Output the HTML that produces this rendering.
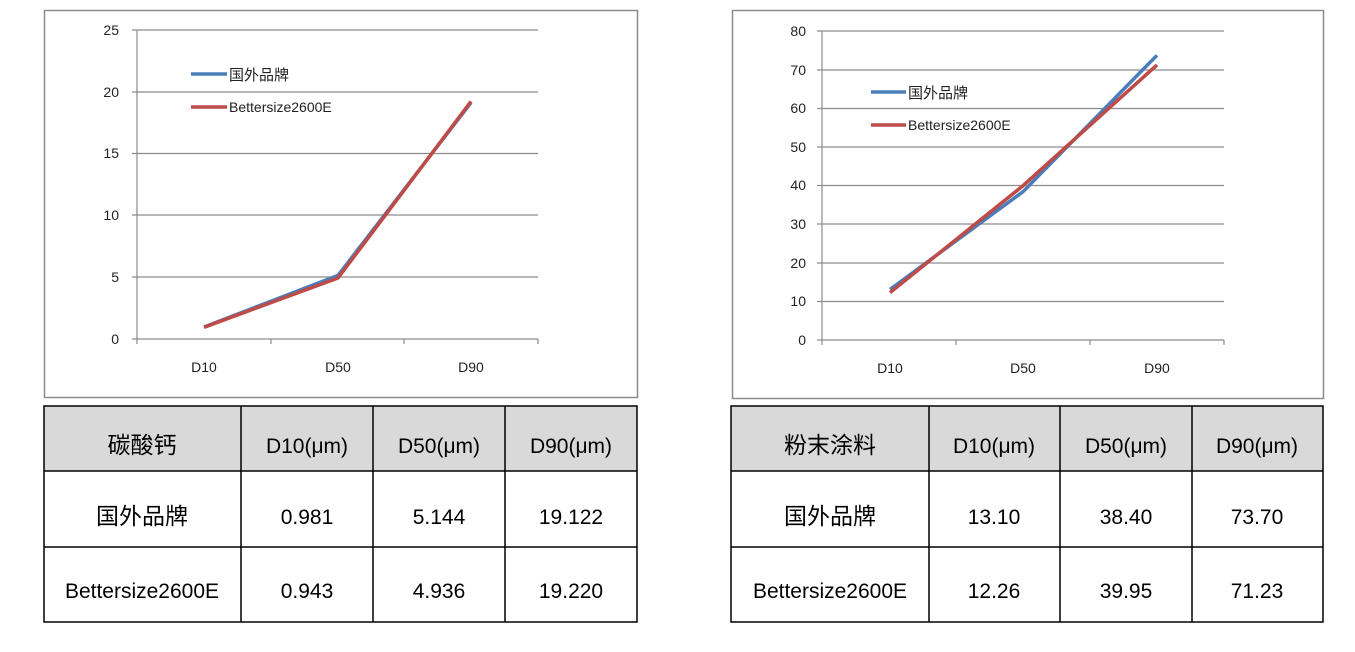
<!DOCTYPE html>
<html><head><meta charset="utf-8"><style>
html,body{margin:0;padding:0;background:#fff;width:1355px;height:652px;overflow:hidden}
svg{display:block}
</style></head><body>
<svg width="1355" height="652" viewBox="0 0 1355 652" xmlns="http://www.w3.org/2000/svg" font-family="'Liberation Sans','Noto Sans CJK SC',sans-serif">
<!-- Left chart -->
<rect x="44.5" y="10.5" width="593" height="387" fill="#fff" stroke="#8c8c8c" stroke-width="1.5"/>
<g stroke="#8c8c8c" stroke-width="1.2">
<line x1="132" y1="30" x2="538" y2="30"/><line x1="132" y1="92" x2="538" y2="92"/>
<line x1="132" y1="153.5" x2="538" y2="153.5"/><line x1="132" y1="215" x2="538" y2="215"/>
<line x1="132" y1="277" x2="538" y2="277"/><line x1="132" y1="339" x2="538" y2="339"/>
<line x1="137" y1="30" x2="137" y2="344"/>
<line x1="271" y1="339" x2="271" y2="344"/><line x1="404" y1="339" x2="404" y2="344"/><line x1="538" y1="339" x2="538" y2="344"/>
</g>
<g font-size="14" fill="#222" text-anchor="end">
<text x="119" y="35">25</text><text x="119" y="97">20</text><text x="119" y="158">15</text>
<text x="119" y="220">10</text><text x="119" y="282">5</text><text x="119" y="344">0</text>
</g>
<g font-size="14" fill="#222" text-anchor="middle">
<text x="204" y="372">D10</text><text x="338" y="372">D50</text><text x="471" y="372">D90</text>
</g>
<polyline points="204,327 338,275.4 471,102.7" fill="none" stroke="#4a7ebb" stroke-width="3.5" stroke-linejoin="round"/>
<polyline points="204,327.3 338,278 471,101.4" fill="none" stroke="#be4b48" stroke-width="3.5" stroke-linejoin="round"/>
<line x1="191" y1="74" x2="227" y2="74" stroke="#4a7ebb" stroke-width="3.5"/>
<line x1="191" y1="107" x2="227" y2="107" stroke="#be4b48" stroke-width="3.5"/>
<text x="229" y="80" font-size="15" fill="#222">国外品牌</text>
<text x="229" y="112" font-size="14" fill="#222">Bettersize2600E</text>

<!-- Right chart -->
<rect x="732.5" y="10.5" width="591" height="388" fill="#fff" stroke="#8c8c8c" stroke-width="1.5"/>
<g stroke="#8c8c8c" stroke-width="1.2">
<line x1="817" y1="31" x2="1224" y2="31"/><line x1="817" y1="70" x2="1224" y2="70"/>
<line x1="817" y1="108.5" x2="1224" y2="108.5"/><line x1="817" y1="147" x2="1224" y2="147"/>
<line x1="817" y1="185.5" x2="1224" y2="185.5"/><line x1="817" y1="224" x2="1224" y2="224"/>
<line x1="817" y1="263" x2="1224" y2="263"/><line x1="817" y1="301.5" x2="1224" y2="301.5"/>
<line x1="817" y1="340" x2="1224" y2="340"/>
<line x1="822" y1="31" x2="822" y2="345"/>
<line x1="956" y1="340" x2="956" y2="345"/><line x1="1090" y1="340" x2="1090" y2="345"/><line x1="1224" y1="340" x2="1224" y2="345"/>
</g>
<g font-size="14" fill="#222" text-anchor="end">
<text x="806" y="36">80</text><text x="806" y="75">70</text><text x="806" y="113">60</text>
<text x="806" y="152">50</text><text x="806" y="190">40</text><text x="806" y="229">30</text>
<text x="806" y="268">20</text><text x="806" y="306">10</text><text x="806" y="345">0</text>
</g>
<g font-size="14" fill="#222" text-anchor="middle">
<text x="890" y="373">D10</text><text x="1023" y="373">D50</text><text x="1157" y="373">D90</text>
</g>
<polyline points="890,289.4 1023,191.7 1157,55.3" fill="none" stroke="#4a7ebb" stroke-width="3.5" stroke-linejoin="round"/>
<polyline points="890,292.6 1023,185.7 1157,64.9" fill="none" stroke="#be4b48" stroke-width="3.5" stroke-linejoin="round"/>
<line x1="871" y1="92" x2="906" y2="92" stroke="#4a7ebb" stroke-width="3.5"/>
<line x1="871" y1="125" x2="906" y2="125" stroke="#be4b48" stroke-width="3.5"/>
<text x="908" y="98" font-size="15" fill="#222">国外品牌</text>
<text x="908" y="130" font-size="14" fill="#222">Bettersize2600E</text>

<!-- Left table -->
<rect x="44" y="406" width="593" height="65" fill="#d9d9d9"/>
<g stroke="#000" stroke-width="1.5" fill="none">
<rect x="44" y="406" width="593" height="216"/>
<line x1="44" y1="471" x2="637" y2="471"/><line x1="44" y1="547" x2="637" y2="547"/>
<line x1="241" y1="406" x2="241" y2="622"/><line x1="373" y1="406" x2="373" y2="622"/><line x1="505" y1="406" x2="505" y2="622"/>
</g>
<g font-size="21" fill="#000" text-anchor="middle">
<text x="142" y="453" font-size="23">碳酸钙</text><text x="307" y="453">D10(μm)</text><text x="439" y="453">D50(μm)</text><text x="571" y="453">D90(μm)</text>
<text x="142" y="524" font-size="23">国外品牌</text><text x="307" y="524">0.981</text><text x="439" y="524">5.144</text><text x="571" y="524">19.122</text>
<text x="142" y="598">Bettersize2600E</text><text x="307" y="598">0.943</text><text x="439" y="598">4.936</text><text x="571" y="598">19.220</text>
</g>

<!-- Right table -->
<rect x="731" y="406" width="592" height="65" fill="#d9d9d9"/>
<g stroke="#000" stroke-width="1.5" fill="none">
<rect x="731" y="406" width="592" height="216"/>
<line x1="731" y1="471" x2="1323" y2="471"/><line x1="731" y1="547" x2="1323" y2="547"/>
<line x1="929" y1="406" x2="929" y2="622"/><line x1="1060" y1="406" x2="1060" y2="622"/><line x1="1192" y1="406" x2="1192" y2="622"/>
</g>
<g font-size="21" fill="#000" text-anchor="middle">
<text x="830" y="453" font-size="23">粉末涂料</text><text x="994" y="453">D10(μm)</text><text x="1126" y="453">D50(μm)</text><text x="1257" y="453">D90(μm)</text>
<text x="830" y="524" font-size="23">国外品牌</text><text x="994" y="524">13.10</text><text x="1126" y="524">38.40</text><text x="1257" y="524">73.70</text>
<text x="830" y="598">Bettersize2600E</text><text x="994" y="598">12.26</text><text x="1126" y="598">39.95</text><text x="1257" y="598">71.23</text>
</g>
</svg>
</body></html>
